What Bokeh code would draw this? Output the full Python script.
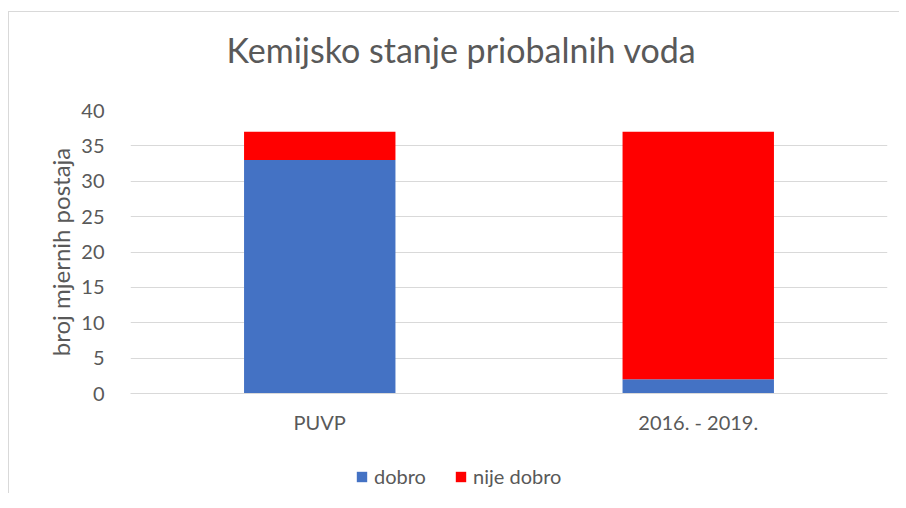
from bokeh.plotting import figure
from bokeh.layouts import column
from bokeh.models import Range1d, Legend, LegendItem, ColumnDataSource, FactorRange, FixedTicker, Title
from bokeh.embed import file_html
from bokeh.resources import INLINE

categories = ["PUVP", "2016. - 2019."]
dobro = [33, 2]
nije_dobro = [4, 35]
series = ["dobro", "nije dobro"]
colors = ["#4472C4", "#FF0000"]
y_ticks = [0, 5, 10, 15, 20, 25, 30, 35, 40]
title_text = "Kemijsko stanje priobalnih voda"
y_label = "broj mjernih postaja"

FONT = "Lato"
TXT = "#595959"
GRID = "#d9d9d9"

src = ColumnDataSource(dict(cat=categories, dobro=dobro, nije_dobro=nije_dobro))

p = figure(x_range=FactorRange(*categories), y_range=Range1d(0, 40),
           frame_width=757, frame_height=283, output_backend="svg", toolbar_location=None,
           min_border_left=121, min_border_right=12, min_border_top=130,
           min_border_bottom=60, title=None)
p.styles = {"margin-top": "-32px"}
p.border_fill_color = None
p.outline_line_color = None

rs = p.vbar_stack(["dobro", "nije_dobro"], x="cat", width=0.4, color=colors,
                  line_color=None, source=src)

p.xgrid.grid_line_color = None
p.ygrid.grid_line_color = GRID
p.yaxis.ticker = FixedTicker(ticks=y_ticks)
p.yaxis.axis_line_color = None
p.yaxis.major_tick_line_color = None
p.yaxis.minor_tick_line_color = None
p.yaxis.major_label_standoff = 20
p.yaxis.axis_label = y_label
p.yaxis.axis_label_standoff = 3
p.yaxis.axis_label_text_font_style = "normal"
p.yaxis.axis_label_text_font_size = "24px"
for ax in (p.xaxis[0], p.yaxis[0]):
    ax.major_label_text_font = FONT
    ax.major_label_text_font_size = "20px"
    ax.major_label_text_color = TXT
    ax.axis_label_text_font = FONT
    ax.axis_label_text_color = TXT
p.xaxis.axis_line_color = GRID
p.xaxis.major_tick_line_color = None
p.xaxis.minor_tick_line_color = None
p.xaxis.major_label_standoff = 10

title = Title(text=title_text, align="left", offset=96, standoff=82,
              vertical_align="bottom",
              text_font=FONT, text_font_size="34px", text_color=TXT,
              text_font_style="normal")
p.add_layout(title, "above")

# legend strip: a second, axis-less figure whose bars fall outside its range
pl = figure(x_range=p.x_range, y_range=Range1d(100, 200), width=890, height=40,
            output_backend="svg", toolbar_location=None, min_border=0,
            x_axis_location=None, y_axis_location=None, title=None)
pl.grid.visible = False
pl.outline_line_color = None
pl.border_fill_color = None
pl.background_fill_color = None
rl = pl.vbar_stack(["dobro", "nije_dobro"], x="cat", width=0.4, color=colors,
                   line_color=None, source=src)
legend = Legend(items=[LegendItem(label=series[i], renderers=[rl[i]]) for i in range(2)],
                orientation="horizontal", location=(225, 5),
                glyph_width=13, glyph_height=13, label_text_font=FONT,
                label_text_font_size="20px", label_text_color=TXT,
                border_line_color=None, background_fill_alpha=0, padding=0,
                spacing=23, label_standoff=6, label_width=57, margin=0)
pl.add_layout(legend, "center")

layout = column(p, pl, spacing=0,
                styles={"margin-left": "8px", "margin-top": "11px",
                        "border-left": "1px solid #d9d9d9",
                        "border-top": "1px solid #d9d9d9"})

open("out.html", "w").write(file_html(layout, INLINE))
